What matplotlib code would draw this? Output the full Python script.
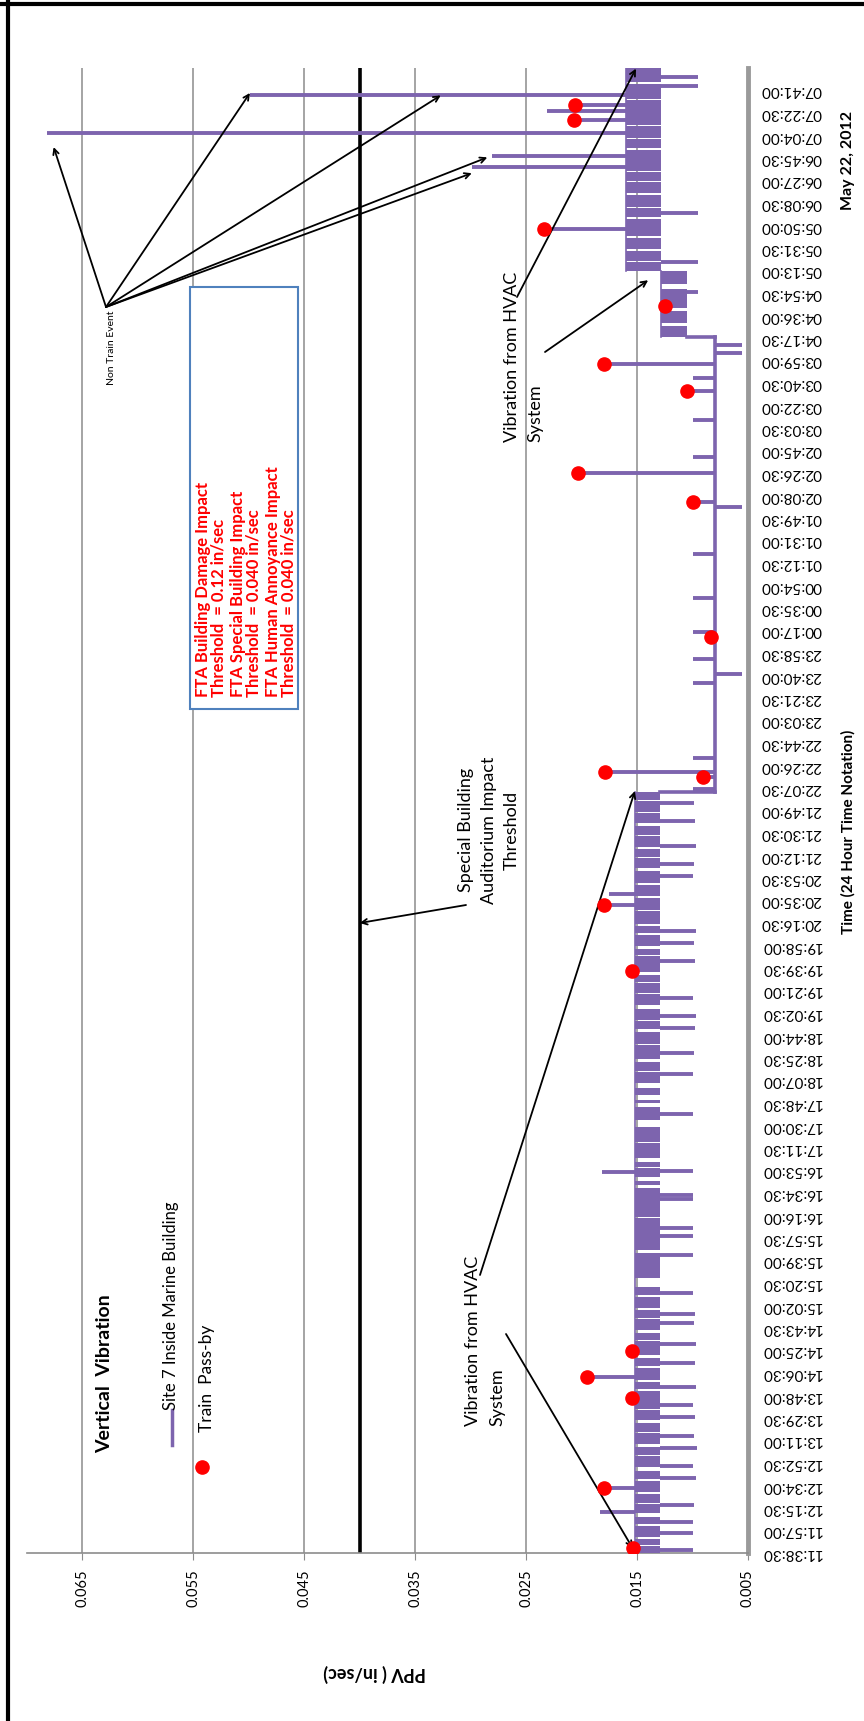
import matplotlib.pyplot as plt
from matplotlib.patches import Rectangle

plt.rcParams['font.family'] = ['Lato', 'DejaVu Sans']

# time axis labels (category axis, every 18.5 minutes)
time_labels = [
    "11:38:30", "11:57:00", "12:15:30", "12:34:00", "12:52:30", "13:11:00", "13:29:30",
    "13:48:00", "14:06:30", "14:25:00", "14:43:30", "15:02:00", "15:20:30", "15:39:00",
    "15:57:30", "16:16:00", "16:34:30", "16:53:00", "17:11:30", "17:30:00", "17:48:30",
    "18:07:00", "18:25:30", "18:44:00", "19:02:30", "19:21:00", "19:39:30", "19:58:00",
    "20:16:30", "20:35:00", "20:53:30", "21:12:00", "21:30:30", "21:49:00", "22:07:30",
    "22:26:00", "22:44:30", "23:03:00", "23:21:30", "23:40:00", "23:58:30", "00:17:00",
    "00:35:30", "00:54:00", "01:12:30", "01:31:00", "01:49:30", "02:08:00", "02:26:30",
    "02:45:00", "03:03:30", "03:22:00", "03:40:30", "03:59:00", "04:17:30", "04:36:00",
    "04:54:30", "05:13:00", "05:31:30", "05:50:00", "06:08:30", "06:27:00", "06:45:30",
    "07:04:00", "07:22:30", "07:41:00",
]
ppv_ticks = [0.005, 0.015, 0.025, 0.035, 0.045, 0.055, 0.065]

# busy periods: trace swings inside a band (start, end, low, high)
busy_start = ["11:38:30", "04:18:00", "05:13:00"]
busy_end = ["22:04:00", "05:13:00", "07:59:30"]
busy_lo = [0.0129, 0.0105, 0.0128]
busy_hi = [0.0152, 0.0128, 0.0160]

# short quiet stretches inside the busy periods (start, end)
gap_start = ["11:44:00", "11:50:00", "12:01:00", "12:08:00", "12:19:00", "12:27:00", "12:38:00",
             "12:46:00", "12:58:00", "13:06:00", "13:17:00", "13:25:00", "13:36:00", "13:52:00",
             "13:59:00", "14:11:00", "14:19:00", "14:33:00", "14:39:00", "14:51:00", "14:58:00",
             "15:09:00", "15:17:00", "15:45:12", "16:14:00", "16:38:30", "16:44:30", "16:55:00",
             "17:00:00", "17:15:30", "17:28:30", "17:45:00", "17:51:00", "18:00:30", "18:14:00",
             "18:22:00", "18:36:00", "18:47:00", "18:56:00", "19:06:00", "19:18:00", "19:27:00",
             "19:34:00", "19:49:00", "19:55:00", "20:07:00", "20:14:00", "20:26:00", "20:37:00",
             "20:48:00", "20:59:00", "21:10:00", "21:17:00", "21:28:00", "21:36:00", "21:47:00",
             "21:57:00",
             "04:27:00", "04:40:00", "04:58:00",
             "05:20:00", "05:29:00", "05:40:00", "05:55:00", "06:04:00", "06:15:00", "06:26:00",
             "06:34:00", "06:52:00", "07:01:00", "07:12:00", "07:33:00", "07:46:00"]
gap_end = ["11:45:00", "11:52:00", "12:02:00", "12:11:00", "12:20:00", "12:29:00", "12:39:00",
           "12:49:00", "12:59:00", "13:08:00", "13:18:00", "13:28:00", "13:37:00", "13:53:00",
           "14:01:00", "14:12:00", "14:21:00", "14:34:00", "14:42:00", "14:52:00", "15:00:00",
           "15:10:30", "15:24:30", "15:47:30", "16:15:00", "16:41:00", "16:47:30", "16:56:00",
           "17:03:18", "17:16:30", "17:34:30", "17:48:30", "17:55:00", "18:05:00", "18:15:00",
           "18:25:00", "18:37:00", "18:49:00", "18:57:00", "19:09:00", "19:19:00", "19:28:00",
           "19:36:00", "19:50:00", "19:58:00", "20:08:00", "20:16:00", "20:27:00", "20:39:00",
           "20:49:00", "21:02:00", "21:11:00", "21:19:00", "21:29:00", "21:39:00", "21:48:00",
           "21:58:00",
           "04:30:00", "04:42:00", "05:02:00",
           "05:21:00", "05:31:00", "05:41:00", "05:57:00", "06:05:00", "06:17:00", "06:27:00",
           "06:35:00", "06:54:00", "07:02:00", "07:13:00", "07:34:00", "07:48:00"]

# quiet night-time trace
night_start = "22:04:00"
night_end = "04:18:00"
night_level = 0.0080

# short excursions of the trace (time, PPV) away from its band
spike_time = ["11:41:00", "11:55:00", "12:04:00", "12:12:30", "12:18:00", "12:32:00", "12:40:00",
              "12:50:00", "13:05:00", "13:15:00", "13:30:00", "13:40:00", "13:46:00", "13:55:00",
              "14:03:00", "14:15:00", "14:25:00", "14:30:00", "14:48:00", "14:55:00", "15:12:18",
              "15:43:30", "15:59:00", "16:05:30", "16:29:30", "16:32:30", "16:51:30", "16:52:30",
              "17:39:30", "18:12:18", "18:30:00", "18:50:00", "19:00:00", "19:15:00", "19:37:00",
              "19:45:00", "20:00:00", "20:10:00", "20:31:00", "20:40:00", "20:55:00", "21:05:00",
              "21:20:00", "21:40:00", "21:55:00",
              "22:06:30", "22:16:30", "22:20:30", "22:32:30", "23:33:30", "23:41:30", "23:53:30",
              "00:11:30", "00:15:30", "00:43:30", "01:20:00", "01:58:30", "02:02:30", "02:26:30",
              "02:40:00", "03:10:00", "03:34:00", "03:45:00", "03:56:00", "04:05:00", "04:12:00",
              "04:44:00", "04:55:00", "05:20:00", "05:47:06", "06:00:00", "06:38:00", "06:47:06",
              "07:06:00", "07:16:30", "07:24:00", "07:29:06", "07:37:30", "07:45:00", "07:52:00"]
spike_ppv = [0.0100, 0.0100, 0.0100, 0.0183, 0.0099, 0.0180, 0.0097,
             0.0100, 0.0096, 0.0099, 0.0098, 0.0100, 0.0155, 0.0097,
             0.0195, 0.0098, 0.0160, 0.0097, 0.0099, 0.0098, 0.0100,
             0.0100, 0.0100, 0.0100, 0.0100, 0.0100, 0.0182, 0.0100,
             0.0100, 0.0100, 0.0099, 0.0098, 0.0097, 0.0100, 0.0155,
             0.0098, 0.0099, 0.0097, 0.0180, 0.0175, 0.0100, 0.0099,
             0.0097, 0.0098, 0.0099,
             0.0100, 0.0091, 0.0179, 0.0100, 0.0100, 0.0055, 0.0100,
             0.0083, 0.0100, 0.0100, 0.0100, 0.0055, 0.0100, 0.0203,
             0.0100, 0.0100, 0.0105, 0.0100, 0.0180, 0.0055, 0.0055,
             0.0125, 0.0095, 0.0095, 0.0234, 0.0095, 0.0299, 0.0281,
             0.0682, 0.0207, 0.0231, 0.0206, 0.0499, 0.0095, 0.0095]

# train pass-by events (time, PPV)
train_time = ["11:43:00", "12:32:00", "13:46:00", "14:03:00", "14:25:00", "19:37:00", "20:31:00",
              "22:16:30", "22:20:30", "00:11:30", "02:02:30", "02:26:30", "03:34:00", "03:56:00",
              "04:44:00", "05:47:06", "07:16:30", "07:29:06"]
train_ppv = [0.0154, 0.0180, 0.0155, 0.0195, 0.0155, 0.0155, 0.0180,
             0.0091, 0.0179, 0.0083, 0.0100, 0.0203, 0.0105, 0.0180,
             0.0125, 0.0234, 0.0207, 0.0206]

PURPLE = "#7D64AE"
START = 11 * 60 + 38.5


def minutes(hms):
    h, m, s = (int(v) for v in hms.split(":"))
    t = h * 60 + m + s / 60 - START
    return t + 1440 if t < 0 else t


def busy_band(t):
    for s, e, lo, hi in zip(busy_start, busy_end, busy_lo, busy_hi):
        if minutes(s) <= t <= minutes(e):
            return lo, hi
    return None


W, H = 864, 1721
fig = plt.figure(figsize=(W / 100, H / 100), dpi=100)


def fx(px):
    return px / W


def fy(py):
    return 1 - py / H


ax = fig.add_axes([fx(27), fy(1553), fx(748 - 27), (1553 - 68) / H])
ax.set_xlim(0.070, 0.005)
ax.set_ylim(0, 66 * 18.5)

# gridlines and PPV threshold
for v in ppv_ticks[1:]:
    ax.axvline(v, color="#8C8C8C", lw=1.1, zorder=1)
ax.axvline(0.040, color="black", lw=2.6, zorder=2)

# trace: busy bands split by their quiet stretches
gaps = sorted((minutes(s), minutes(e)) for s, e in zip(gap_start, gap_end))
for s, e, lo, hi in zip(busy_start, busy_end, busy_lo, busy_hi):
    t0, t1 = minutes(s), minutes(e)
    edges = [t0]
    for g0, g1 in gaps:
        if t0 < g0 < t1:
            edges += [g0, g1]
    edges.append(t1)
    for a, b in zip(edges[::2], edges[1::2]):
        ax.fill_betweenx([a, b], lo, hi, color=PURPLE, lw=0, zorder=3)
    ax.plot([hi, hi], [t0, t1], color=PURPLE, lw=1.2, zorder=3)

ax.plot([night_level, night_level], [minutes(night_start), minutes(night_end)],
        color=PURPLE, lw=2.6, zorder=3)
ax.plot([busy_lo[0], night_level], [minutes(night_start)] * 2, color=PURPLE, lw=2.6, zorder=3)
ax.plot([busy_lo[1], night_level], [minutes(night_end)] * 2, color=PURPLE, lw=2.6, zorder=3)
for t, v in zip(spike_time, spike_ppv):
    tm = minutes(t)
    band = busy_band(tm)
    if band is None:
        edge = night_level
    else:
        edge = band[1] if v > band[1] else band[0]
    ax.plot([edge, v], [tm, tm], color=PURPLE, lw=2.8, solid_capstyle="butt", zorder=3)

ax.plot(train_ppv, [minutes(t) for t in train_time], "o", color="red",
        ms=9.5, mec="red", zorder=5)

# axes styling
for side in ("top", "left"):
    ax.spines[side].set_visible(False)
ax.spines["right"].set_color("#9A9A9A")
ax.spines["right"].set_linewidth(3.5)
ax.spines["bottom"].set_color("#8C8C8C")
ax.spines["bottom"].set_linewidth(1.2)
ax.spines["bottom"].set_bounds(0.070, 0.005)

ax.set_xticks(ppv_ticks)
ax.set_xticklabels([f"{v:.3f}" for v in ppv_ticks], rotation=90, fontsize=10.5)
ax.tick_params(axis="x", length=5, color="#8C8C8C", pad=7)
ax.yaxis.tick_right()
ax.set_yticks([minutes(t) for t in time_labels])
ax.set_yticklabels(time_labels, rotation=180, fontsize=11, va="center")
ax.tick_params(axis="y", length=0, pad=9)

# axis titles
fig.text(fx(375), fy(1673), "PPV ( in/sec)", rotation=180, fontsize=13, fontweight="bold",
         ha="center", va="center")
fig.text(fx(848), fy(832), "Time (24 Hour Time Notation)", rotation=90, fontsize=11,
         fontweight="bold", ha="center", va="center")
fig.text(fx(848), fy(160), "May 22, 2012", rotation=90, fontsize=11.5, fontweight="bold",
         ha="center", va="center")

# legend block
fig.text(fx(105), fy(1453), "Vertical  Vibration", rotation=90, fontsize=14, fontweight="bold",
         ha="center", va="bottom")
fig.add_artist(plt.Line2D([fx(172), fx(172)], [fy(1445), fy(1410)], color=PURPLE, lw=2.5))
fig.text(fx(171), fy(1410), "Site 7 Inside Marine Building", rotation=90, fontsize=12,
         ha="center", va="bottom")
fig.add_artist(plt.Line2D([fx(202)], [fy(1467)], marker="o", ms=9.5, color="red"))
fig.text(fx(207), fy(1432), "Train  Pass-by", rotation=90, fontsize=12.5, ha="center",
         va="bottom")

# impact criteria box
fig.add_artist(Rectangle((fx(190), fy(709)), fx(108), (709 - 287) / H, transform=fig.transFigure,
                         facecolor="white", edgecolor="#4F81BD", lw=1.5, zorder=4))
box_lines = ["FTA Building Damage Impact", "Threshold  = 0.12 in/sec",
             "FTA Special Building Impact", "Threshold  = 0.040 in/sec",
             "FTA Human Annoyance Impact", "Threshold  = 0.040 in/sec"]
box_x = [203, 219, 238, 254, 273, 289]
for x, line in zip(box_x, box_lines):
    fig.text(fx(x), fy(697), line, rotation=90, fontsize=12, fontweight="bold",
             color="red", ha="center", va="bottom", zorder=5)

# annotations
arrow = dict(arrowstyle="->", color="black", lw=1.3, shrinkA=0, shrinkB=0)
fig.text(fx(112), fy(385), "Non Train Event", rotation=90, fontsize=7.5, ha="center",
         va="bottom")
for tip in [(0.0676, minutes("06:54:30")), (0.0499, minutes("07:39:00")),
            (0.0327, minutes("07:37:00")), (0.0285, minutes("06:46:00")),
            (0.0299, minutes("06:33:00"))]:
    ax.annotate("", xy=tip, xycoords="data", xytext=(fx(106), fy(307)),
                textcoords="figure fraction", arrowprops=arrow)

fig.text(fx(512), fy(442), "Vibration from HVAC", rotation=90, fontsize=13, ha="center",
         va="bottom")
fig.text(fx(535), fy(442), "System", rotation=90, fontsize=13, ha="center", va="bottom")
ax.annotate("", xy=(0.0151, minutes("07:59:00")), xycoords="data", xytext=(fx(517), fy(297)),
            textcoords="figure fraction", arrowprops=arrow)
ax.annotate("", xy=(0.0140, minutes("05:05:00")), xycoords="data", xytext=(fx(545), fy(352)),
            textcoords="figure fraction", arrowprops=arrow)

for x, line in zip([466, 489, 512], ["Special Building", "Auditorium Impact", "Threshold"]):
    fig.text(fx(x), fy(830), line, rotation=90, fontsize=13, ha="center", va="center")
ax.annotate("", xy=(0.040, minutes("20:16:30")), xycoords="data", xytext=(fx(466), fy(905)),
            textcoords="figure fraction", arrowprops=arrow)

fig.text(fx(473), fy(1426), "Vibration from HVAC", rotation=90, fontsize=13, ha="center",
         va="bottom")
fig.text(fx(497), fy(1426), "System", rotation=90, fontsize=13, ha="center", va="bottom")
ax.annotate("", xy=(0.0152, minutes("22:05:00")), xycoords="data", xytext=(fx(480), fy(1275)),
            textcoords="figure fraction", arrowprops=arrow)
ax.annotate("", xy=(0.0154, minutes("11:42:30")), xycoords="data", xytext=(fx(506), fy(1334)),
            textcoords="figure fraction", arrowprops=arrow)

# chart border (top and left edges)
fig.add_artist(plt.Line2D([fx(8), fx(8)], [fy(0), fy(1721)], color="black", lw=3))
fig.add_artist(plt.Line2D([fx(0), fx(864)], [fy(4), fy(4)], color="black", lw=3))

fig.savefig("out.png", dpi=100)
